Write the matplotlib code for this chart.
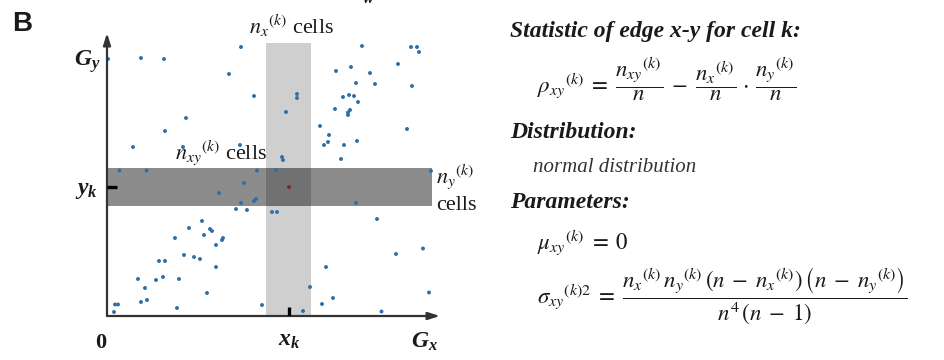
import matplotlib
matplotlib.use("Agg")
import matplotlib.pyplot as plt

plt.rcParams['mathtext.fontset'] = 'stix'
plt.rcParams['mathtext.it'] = 'Liberation Serif:italic:bold'
plt.rcParams['mathtext.rm'] = 'Liberation Serif:bold'
plt.rcParams['mathtext.bf'] = 'Liberation Serif:bold'

W, H = 944, 360

# ---- data (expression units of gene x / gene y, origin at 0) ----
cells_x = [1, 34, 57, 134, 122, 147, 79, 58, 26, 76, 133, 12.5, 39.5, 150,
           255, 304, 310, 312, 291, 229, 244, 263, 249, 268, 305, 190, 190,
           236, 242, 247, 251, 228, 243, 241, 241, 179, 213, 300, 222, 221,
           217, 237, 250, 234, 175, 176, 169, 324, 137, 112, 147, 149, 134,
           129, 140, 165, 170, 249, 95, 82, 103, 105, 97, 68, 116, 115, 109,
           77, 87, 93, 52, 58, 109, 31, 49, 56, 72, 38, 100, 34, 40, 70, 8,
           11, 7, 155, 270, 289, 316, 219, 203, 226, 215, 196, 274.5, 322]
cells_y = [257, 258, 257, 269, 242, 220, 198, 185, 169, 169, 171, 145.5,
           145.5, 145.5, 270, 269, 269, 264, 252, 245, 249, 243, 233, 232,
           230, 222, 218, 219, 221, 220, 214, 207, 206, 203.5, 201, 204, 190,
           187, 181, 174, 171, 171, 175, 157, 159, 156, 146, 145, 133, 123,
           115, 117, 113, 107, 106, 104, 104, 113, 95, 88, 87, 85, 81, 78, 78,
           76, 71, 61, 59, 57, 55, 55, 49, 37, 36, 39, 37, 28, 23, 14, 16, 8,
           11.5, 11.5, 4, 11, 97, 62, 67.5, 49, 29, 18, 12, 5, 4.5, 23.5]
cell_k = (182, 129)            # (x_k, y_k)
band_x = (159, 204, 273)       # vertical window: x0, x1, top
band_y = (110, 148, 325)       # horizontal window: y0, y1, right
x_max, y_max = 333, 283

fig = plt.figure(figsize=(W / 100, H / 100), dpi=100)

def F(px, py):
    return px / W, 1 - py / H

ax = fig.add_axes([107 / W, 1 - 316 / H, x_max / W, y_max / H])
ax.set_xlim(0, x_max)
ax.set_ylim(0, y_max)
ax.axis('off')

# bands
ax.fill_between([band_x[0], band_x[1]], 0, band_x[2], color='black',
                alpha=0.19, lw=0, zorder=1)
ax.fill_between([0, band_y[2]], band_y[0], band_y[1], color='black',
                alpha=0.45, lw=0, zorder=2)

# points
ax.scatter(cells_x, cells_y, s=8, color='#2f6fa8', edgecolors='none',
           zorder=3, clip_on=False)
ax.scatter([cell_k[0]], [cell_k[1]], s=8, color='#8a2323',
           edgecolors='none', zorder=4)

# axes arrows
arrow = dict(arrowstyle='-|>,head_length=0.7,head_width=0.22', color='#333333',
             lw=1.6, shrinkA=0, shrinkB=0)
ax.annotate('', xy=(x_max, 0), xytext=(0, 0), arrowprops=arrow,
            annotation_clip=False)
ax.annotate('', xy=(0, y_max), xytext=(0, 0), arrowprops=arrow,
            annotation_clip=False)

# ticks at x_k, y_k
ax.plot([cell_k[0], cell_k[0]], [0, 9], color='black', lw=2.4, zorder=5,
        solid_capstyle='butt')
ax.plot([0, 10], [cell_k[1], cell_k[1]], color='black', lw=2.4, zorder=5,
        solid_capstyle='butt')

tc = '#1a1a1a'
serif = 'Liberation Serif'

# panel letter
fig.text(*F(12, 24), 'B', fontsize=20, fontweight='bold',
         family='Liberation Sans', ha='left', va='center', color=tc)
# cut-off title at top
fig.text(*F(360, -6), r'$G_w$', fontsize=17, math_fontfamily='custom',
         ha='center', va='center', color=tc)

# axis labels
lab = dict(fontsize=17, math_fontfamily='custom', ha='center', va='center',
           color=tc)
fig.text(*F(87, 62), r'$G_y$', **lab)
fig.text(*F(86, 189), r'$y_k$', **lab)
fig.text(*F(289, 339), r'$x_k$', **lab)
fig.text(*F(424, 341), r'$G_x$', **lab)
fig.text(*F(101, 343), '0', fontsize=16, fontweight='bold', family=serif,
         ha='center', va='center', color=tc)

# band annotations
ann = dict(fontsize=16, family=serif, math_fontfamily='stix', color=tc,
           va='center')
fig.text(*F(292, 26), r'$n_x{}^{(k)}$ cells', ha='center', **ann)
fig.text(*F(221, 153), r'$n_{xy}{}^{(k)}$ cells', ha='center', **ann)
fig.text(*F(436, 177), r'$n_y{}^{(k)}$', ha='left', **ann)
fig.text(*F(436, 206), 'cells', ha='left', **ann)

# right-hand text
hd = dict(fontsize=17, family=serif, fontweight='bold', style='italic',
          color=tc, ha='left', va='center')
fig.text(*F(510, 32), 'Statistic of edge x-y for cell k:', **hd)
fig.text(*F(510, 132), 'Distribution:', **hd)
fig.text(*F(510, 203), 'Parameters:', **hd)
fig.text(*F(533, 167), 'normal distribution', fontsize=15, family=serif,
         style='italic', color='#333333', ha='left', va='center')

fm = dict(fontsize=16.5, math_fontfamily='stix', color=tc, ha='left',
          va='center')
fig.text(*F(537, 79),
         r'$\rho_{xy}{}^{(k)} \;=\; \dfrac{n_{xy}{}^{(k)}}{n} \;-\; '
         r'\dfrac{n_x{}^{(k)}}{n} \,\cdot\, \dfrac{n_y{}^{(k)}}{n}$', **fm)
fig.text(*F(537, 243), r'$\mu_{xy}{}^{(k)} \;=\; 0$', **fm)
fig.text(*F(537, 296),
         r'$\sigma_{xy}{}^{(k)2} \;=\; \dfrac{n_x{}^{(k)}\,n_y{}^{(k)}\,'
         r'\left(n \;-\; n_x{}^{(k)}\right)\,\left(n \;-\; n_y{}^{(k)}\right)}'
         r'{n^4\,(n \;-\; 1)}$', **fm)

fig.savefig('out.png', dpi=100)
